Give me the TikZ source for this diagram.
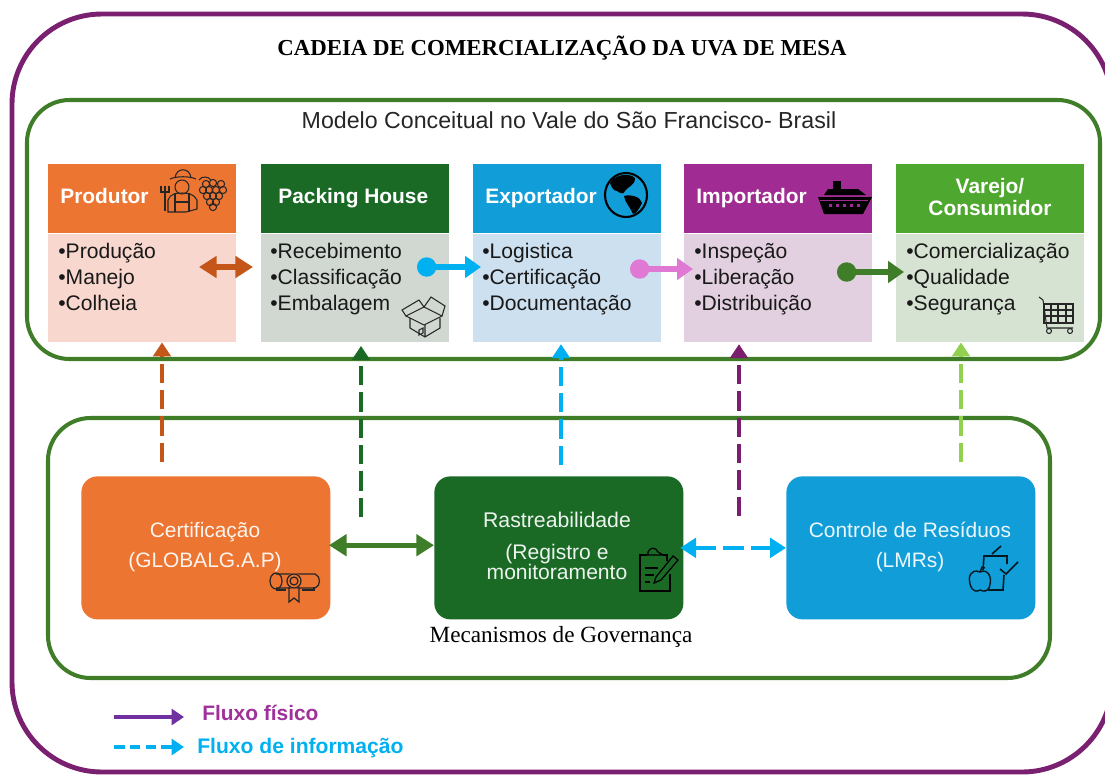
\documentclass[tikz,border=0pt]{standalone}
\usepackage{fontspec}
\setmainfont{Liberation Sans}
\newfontfamily\serifont{Liberation Serif}
\usetikzlibrary{positioning,arrows.meta}
\definecolor{FramePurple}{HTML}{7A2070}
\definecolor{FrameGreen}{HTML}{3F7D28}
\definecolor{OrangeHead}{HTML}{EC7532}
\definecolor{DarkGreenHead}{HTML}{1A6A26}
\definecolor{BlueHead}{HTML}{119ED8}
\definecolor{PurpleHead}{HTML}{A02B93}
\definecolor{GreenHead}{HTML}{4EA72E}
\definecolor{OrangeBody}{HTML}{F8D7CE}
\definecolor{GreyBody}{HTML}{D0D8D1}
\definecolor{BlueBody}{HTML}{CDE0F0}
\definecolor{PurpleBody}{HTML}{E2D0E0}
\definecolor{GreenBody}{HTML}{D6E3D2}
\definecolor{RustArrow}{HTML}{C4561A}
\definecolor{SkyArrow}{HTML}{00B0F0}
\definecolor{PinkArrow}{HTML}{DF79D3}
\definecolor{PlumArrow}{HTML}{7A1F6E}
\definecolor{LimeArrow}{HTML}{92D050}
\definecolor{LegendPurple}{HTML}{7030A0}
\definecolor{LegendText}{HTML}{A0309A}

\begin{document}
\begin{tikzpicture}[x=.02cm,y=-.02cm,
  head/.style={minimum width=188*.02cm,minimum height=69*.02cm,inner sep=0pt},
  headlabel/.style={text=white,font=\fontsize{11.9}{14}\selectfont\bfseries,anchor=base west,inner sep=0pt},
  body/.style={minimum width=188*.02cm,minimum height=108*.02cm,inner sep=0pt},
  items/.style={anchor=north west,inner sep=0pt,align=left,text=black!90,font=\fontsize{12}{14.8}\selectfont},
  gov/.style={minimum width=249*.02cm,minimum height=143*.02cm,inner sep=0pt,rounded corners=.32cm},
  swap/.style={line width=3pt,{Triangle[length=10pt,width=12pt]}-{Triangle[length=10pt,width=12pt]}},
  dotted start/.style={line width=3pt,{Circle[length=11pt,width=11pt]}-{Triangle[length=9pt,width=12pt]}},
  info/.style={line width=2.6pt,dash pattern=on 11pt off 4pt,-{Triangle[length=8pt,width=10pt]}},
  icon/.style={draw=black!85,line width=.6pt},
]
\useasboundingbox (0,0) rectangle (1105,775);
\clip (0,0) rectangle (1105,775);
\draw[FramePurple,line width=2.8pt,rounded corners=1.8cm] (12,14) rectangle (1112,772);
\draw[FrameGreen,line width=2.3pt,rounded corners=.85cm] (27,100) rectangle (1100,359);
\draw[FrameGreen,line width=2.3pt,rounded corners=.85cm] (48,418) rectangle (1050,678);

\node[font=\fontsize{13}{15}\selectfont\serifont\bfseries] (title) at (562,48) {CADEIA DE COMERCIALIZAÇÃO DA UVA DE MESA};
\node[font=\fontsize{13.2}{15}\selectfont,text=black!85] (model) at (569,120) {Modelo Conceitual no Vale do São Francisco- Brasil};

% chain
\node[head,fill=OrangeHead,anchor=north west] (prodhead) at (48,164) {};
\node[body,fill=OrangeBody,below=0pt of prodhead] (prodbody) {};
\node[head,fill=DarkGreenHead,anchor=north west] (packhead) at (261,164) {};
\node[body,fill=GreyBody,below=0pt of packhead] (packbody) {};
\node[head,fill=BlueHead,anchor=north west] (exphead) at (473,164) {};
\node[body,fill=BlueBody,below=0pt of exphead] (expbody) {};
\node[head,fill=PurpleHead,anchor=north west] (imphead) at (684,164) {};
\node[body,fill=PurpleBody,below=0pt of imphead] (impbody) {};
\node[head,fill=GreenHead,anchor=north west] (varhead) at (896,164) {};
\node[body,fill=GreenBody,below=0pt of varhead] (varbody) {};
\node[text=white,align=center,font=\fontsize{11.9}{12.6}\selectfont\bfseries] (varlabel) at (990,197) {Varejo/\\Consumidor};
\node[headlabel] (prodlabel) at (60,203) {Produtor};
\node[headlabel] (packlabel) at (278,203) {Packing House};
\node[headlabel] (explabel) at (485,203) {Exportador};
\node[headlabel] (implabel) at (696,203) {Importador};

\node[items] (prodlist) at (58,243) {•Produção\\•Manejo\\•Colheia};
\node[items] (packlist) at (270,243) {•Recebimento\\•Classificação\\•Embalagem};
\node[items] (explist) at (482,243) {•Logistica\\•Certificação\\•Documentação};
\node[items] (implist) at (694,243) {•Inspeção\\•Liberação\\•Distribuição};
\node[items] (varlist) at (906,243) {•Comercialização\\•Qualidade\\•Segurança};

% governance
\node[gov,fill=OrangeHead,anchor=north west] (cert) at (81,476) {};
\node[gov,fill=DarkGreenHead,anchor=north west] (rast) at (434,476) {};
\node[gov,fill=BlueHead,anchor=north west] (ctrl) at (786,476) {};
\node[text=white!92!OrangeHead,align=center,font=\fontsize{11.9}{17}\selectfont] (certlabel) at (205,547) {Certificação\\(GLOBALG.A.P)};
\node[text=white!92!DarkGreenHead,font=\fontsize{12.1}{14}\selectfont] (rastlabel) at (557,520) {Rastreabilidade};
\node[text=white!92!DarkGreenHead,align=center,font=\fontsize{12}{11.8}\selectfont] (reglabel) at (557,562) {(Registro e\\monitoramento};
\node[text=white!92!BlueHead,align=center,font=\fontsize{11.9}{17}\selectfont] (ctrllabel) at (910,547) {Controle de Resíduos\\(LMRs)};
\node[font=\fontsize{13.2}{15}\selectfont\serifont] (govlabel) at (561,637) {Mecanismos de Governança};

% connectors
\coordinate (prodright) at (199,267);
\coordinate (packleft) at (253,267);
\draw[swap,RustArrow] (prodright) -- (packleft);
\coordinate (packdot) at (417,267);
\coordinate (expin) at (481,267);
\draw[dotted start,SkyArrow] (packdot) -- (expin);
\coordinate (expdot) at (630,269);
\coordinate (impin) at (693,269);
\draw[dotted start,PinkArrow] (expdot) -- (impin);
\coordinate (impdot) at (837,272);
\coordinate (varin) at (904,272);
\draw[dotted start,FrameGreen] (impdot) -- (varin);

\coordinate (certup) at (162,462);
\coordinate (rastupa) at (361,517);
\coordinate (rastupb) at (561,465);
\coordinate (ctrlupa) at (739,516);
\coordinate (ctrlupb) at (961,462);
\draw[info,RustArrow] (certup) -- (certup |- prodbody.south);
\draw[info,DarkGreenHead] (rastupa) -- ([yshift=-2pt]rastupa |- packbody.south);
\draw[info,SkyArrow] (rastupb) -- ([yshift=-1pt]rastupb |- expbody.south);
\draw[info,PlumArrow] (ctrlupa) -- ([yshift=-1pt]ctrlupa |- impbody.south);
\draw[info,LimeArrow] (ctrlupb) -- (ctrlupb |- varbody.south);
\draw[swap,FrameGreen] ([xshift=-1pt,yshift=1.5pt]cert.east) -- ([yshift=1.5pt]rast.west);
\draw[info,SkyArrow,dash pattern=on 12pt off 4pt,{Triangle[length=9pt,width=11pt]}-{Triangle[length=9pt,width=11pt]}] ([xshift=-2pt]rast.east) -- (ctrl.west);

% legend
\coordinate (physa) at (114,717);
\coordinate (physb) at (184,717);
\draw[LegendPurple,line width=2pt,-{Triangle[length=7pt,width=9pt]}] (physa) -- (physb);
\coordinate (infoa) at (114,747);
\coordinate (infob) at (184,747);
\draw[SkyArrow,line width=2pt,dash pattern=on 6pt off 3pt,-{Triangle[length=7pt,width=9pt]}] (infoa) -- (infob);
\node[text=LegendText,font=\fontsize{11.9}{14}\selectfont\bfseries,anchor=west,inner sep=0pt] (physlabel) at (202,713) {Fluxo físico};
\node[text=SkyArrow,font=\fontsize{12}{14}\selectfont\bfseries,anchor=west,inner sep=0pt] (infolabel) at (197,748) {Fluxo de informação};

% icons: farmer and grapes
\draw[icon] (170,179) .. controls (176,176) and (190,176) .. (196,179);
\draw[icon] (175,178) .. controls (176,167) and (190,167) .. (191,178);
\draw[icon] (182,187) circle (7);
\draw[icon] (168,212) -- (168,200) .. controls (170,194) and (176,193) .. (182,193) .. controls (188,193) and (194,194) .. (197,200) -- (197,209) -- (186,212) -- cycle;
\draw[icon] (175,193) -- (175,212) (189,193) -- (189,212) (175,202) -- (189,202);
\draw[icon] (165,188) -- (165,211) (161,186) -- (161,192) -- (169,192) -- (169,186) (165,186) -- (165,192);
\foreach \gx/\gy in {206/184,213/183,221/184,203/190,209/190,216/190,223/190,207/196,213/196,219/196,210/202,216/202,213/207}
  \draw[icon] (\gx,\gy) circle (3.6);
\draw[icon] (199,180) .. controls (202,176) and (208,176) .. (211,180);

% icons: open box
\draw[icon] (406,316) -- (424,307) -- (442,316) -- (424,325) -- cycle;
\draw[icon] (410,318) -- (410,328) -- (425,337) -- (440,328) -- (440,318) (425,325) -- (425,337);
\draw[icon] (406,316) -- (402,310) -- (419,300) -- (424,307) -- (431,297) -- (445,306) -- (442,316);
\draw[icon] (419,330) -- (423,328) -- (423,333) -- (419,335) -- cycle;

% icons: globe
\draw[black,line width=1.2pt] (626,195) ellipse (21 and 22);
\fill[black] (610,183) .. controls (614,175) and (629,172) .. (635,178) .. controls (635,186) and (628,186) .. (625,191) .. controls (622,197) and (618,190) .. (614,190) .. controls (612,188) and (611,186) .. (610,183) -- cycle;
\fill[black] (624,196) .. controls (631,194) and (641,197) .. (642,203) .. controls (639,209) and (636,214) .. (633,214) .. controls (631,208) and (625,203) .. (624,196) -- cycle;

% icons: ship
\fill[black] (818,197) -- (872,197) -- (863,214) -- (824,214) -- cycle;
\fill[black] (824,195) -- (828,189) -- (858,189) -- (866,195) -- cycle;
\fill[black] (833,189) -- (833,181) -- (841,181) -- (841,189) -- cycle;
\foreach \wx in {829,836,843,850,857}
  \fill[PurpleHead] (\wx,204) rectangle ++(3,3);
\draw[PurpleHead,line width=.4pt] (820,200) -- (868,200);

% icons: cart
\draw[icon] (1039,297) -- (1043,300) -- (1047,328) -- (1073,328);
\draw[icon] (1044,304) rectangle (1073,323);
\foreach \cx in {1051,1058,1066} \draw[icon] (\cx,304) -- (\cx,323);
\foreach \cy in {310,316} \draw[icon] (1044,\cy) -- (1073,\cy);
\draw[icon] (1049,331) circle (2.5);
\draw[icon] (1070,331) circle (2.5);

% icons: diploma
\draw[icon,line width=.7pt] (276,574) -- (315,574) .. controls (321,576) and (321,586) .. (315,588) -- (276,588);
\draw[icon,line width=.7pt] (276,581) ellipse (6 and 8);
\draw[icon,line width=.7pt] (276,590) -- (286,590) (302,590) -- (314,590) -- (314,587);
\fill[OrangeHead] (294,581) circle (8);
\draw[icon,line width=.7pt] (294,581) circle (7);
\draw[icon,line width=.7pt] (294,581) circle (4);
\draw[icon,line width=.7pt] (289,587) -- (289,602) -- (294,598) -- (299,602) -- (299,587);

% icons: clipboard and pencil
\draw[black,line width=.7pt] (647,555) -- (640,555) -- (640,591) -- (670,591) -- (670,574);
\draw[black,line width=.7pt] (663,555) -- (667,555) -- (667,561);
\draw[black,line width=.7pt] (648,555) -- (648,552) .. controls (650,547) and (656,547) .. (658,552) -- (663,555) -- (647,555);
\draw[black,line width=.7pt] (645,568) -- (658,568) (645,575) -- (654,575) (645,582) -- (650,582);
\draw[black,line width=.7pt] (654,583) -- (656,577) -- (673,556) -- (678,560) -- (661,580) -- cycle;

% icons: apple and check
\draw[black!85!BlueHead,line width=.8pt] (980,572) .. controls (970,568) and (968,578) .. (970,584) .. controls (972,592) and (977,592) .. (980,590) .. controls (984,592) and (989,592) .. (990,584) .. controls (992,578) and (988,568) .. (980,572) -- cycle;
\draw[black!85!BlueHead,line width=.8pt] (980,572) -- (982,567) -- (985,568);
\draw[black!85!BlueHead,line width=.9pt] (983,570) -- (984,556) -- (1007,556) -- (1007,564);
\draw[black!85!BlueHead,line width=.9pt] (1001,546) -- (992,554);
\draw[black!85!BlueHead,line width=.9pt] (1000,569) -- (1006,574) -- (1018,562);
\draw[black!85!BlueHead,line width=.9pt] (1004,575) -- (1003,590) -- (988,590);
\end{tikzpicture}
\end{document}
